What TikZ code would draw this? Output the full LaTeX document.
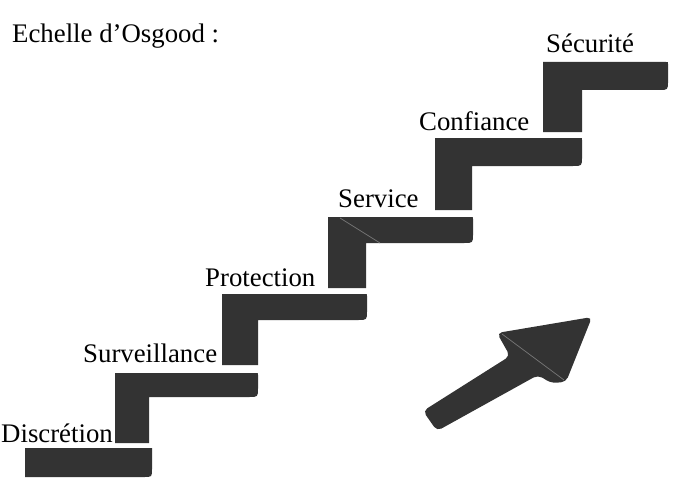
\documentclass[tikz,border=0pt]{standalone}
\usepackage{fontspec}
\setmainfont{Liberation Serif}
\definecolor{stepgray}{RGB}{51,51,51}
\definecolor{seamgray}{RGB}{120,120,120}
\newcommand{\stairL}[7]{% name, x0, x1, ytop, ybar, xv, ybot
  \fill[stepfill] (#2,#4) coordinate (#1) -- (#3-2,#4) .. controls (#3,#4) .. (#3,#4+2)
    -- (#3,#5-9) .. controls (#3,#5) .. (#3-9,#5)
    -- (#6,#5) -- (#6,#7) -- (#2,#7) -- cycle;}
\tikzset{
  stepfill/.style={fill=stepgray},
  lbl/.style={anchor=base west, inner sep=0pt, font=\fontsize{26.8}{30}\selectfont},
  seam/.style={draw=seamgray, line width=0.7pt}
}
\begin{document}
\begin{tikzpicture}[x=1pt,y=-1pt]
\useasboundingbox (0,0) rectangle (674,492);
% bottom step (bar only)
\fill[stepfill] (25,448) coordinate (s0) -- (152,448) -- (152,469) .. controls (152,477) .. (144,477) -- (25,477) -- cycle;
\stairL{s1}{115}{258}{373}{397}{149}{443}
\stairL{s2}{222}{367}{294}{320}{258}{365}
\stairL{s3}{328}{473}{217}{243}{366}{288}
\stairL{s4}{435}{582}{138}{166}{472}{210}
\stairL{s5}{543}{668}{62}{90}{582}{132}
% seam in the Service step
\coordinate (sa) at (340,218);
\coordinate (sb) at (380,243);
\draw[seam] (sa) -- (sb);
% arrow
\coordinate (t1) at (423,411);
\coordinate (u1) at (510,356);
\coordinate (h1) at (497,333);
\coordinate (tip) at (592,317);
\coordinate (h2) at (566,382);
\coordinate (h3) at (551,383);
\coordinate (u2) at (538,375);
\coordinate (t2) at (437,431);
\fill[stepfill, rounded corners=5pt] (t1) -- (u1) -- (h1) -- (tip) -- (h2) -- (h3) -- (u2) -- (t2) -- cycle;
\coordinate (ma) at (502,334);
\coordinate (mb) at (564,380);
\draw[seam] (ma) -- (mb);
% labels
\node[lbl] (title) at (12,43) {Echelle d’Osgood :};
\node[lbl] (l5) at (546,53) {Sécurité};
\node[lbl] (l4) at (419,130) {Confiance};
\node[lbl] (l3) at (338,207) {Service};
\node[lbl] (l2) at (205,286) {Protection};
\node[lbl] (l1) at (83,362) {Surveillance};
\node[lbl] (l0) at (1,442) {Discrétion};
\end{tikzpicture}
\end{document}
